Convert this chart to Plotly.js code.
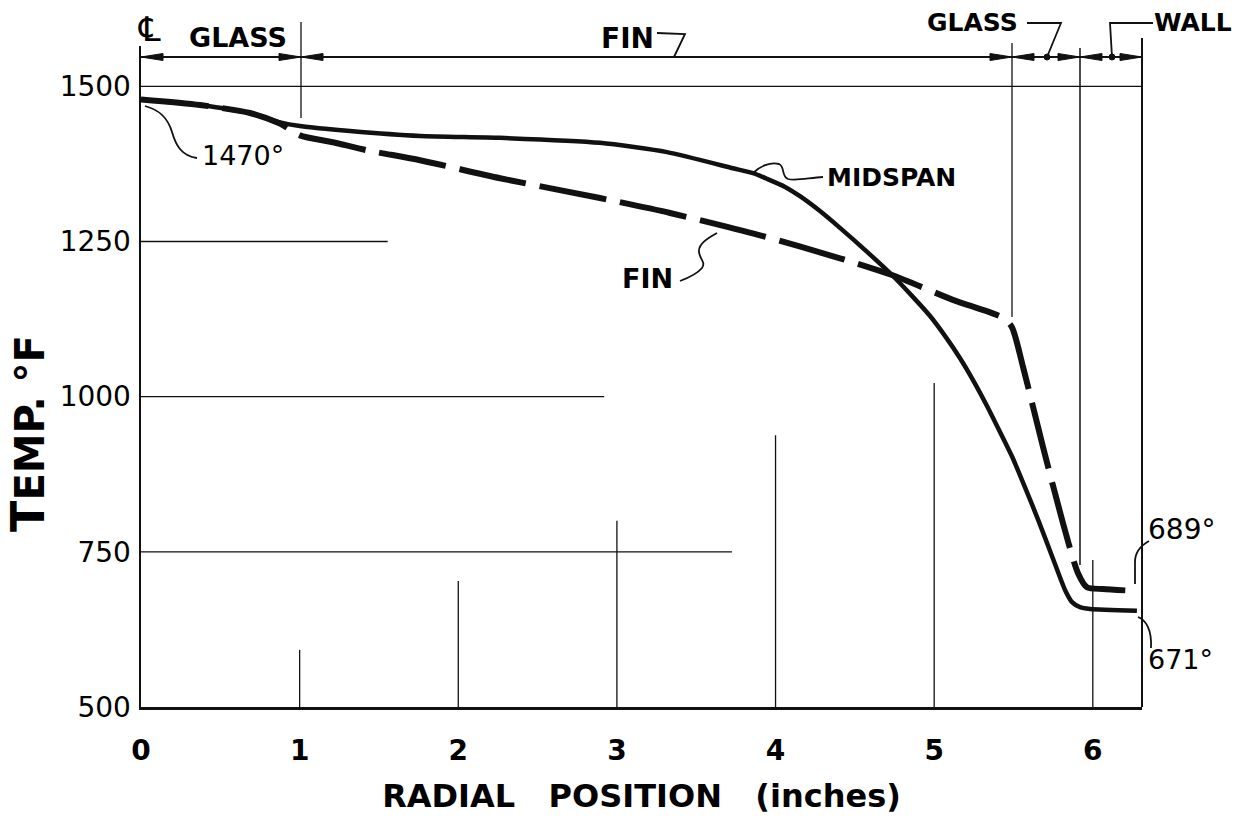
<!DOCTYPE html>
<html><head><meta charset="utf-8">
<script src="https://cdn.plot.ly/plotly-3.0.1.min.js"></script>
<style>html,body{margin:0;padding:0;background:#fff;}#chart{width:1246px;height:830px;}</style>
</head><body><div id="chart"></div>
<script>
// ---- data ----
const radialTicks = [0, 1, 2, 3, 4, 5, 6];
const tempTicks = [500, 750, 1000, 1250, 1500];
const midspanX = [0, 0.372, 0.687, 0.876, 1.002, 1.318, 1.759, 2.263, 2.893, 3.316, 3.732, 3.858, 3.946, 4.060, 4.154, 4.280, 4.406, 4.570, 4.734, 4.854, 4.974, 5.068, 5.163, 5.251, 5.333, 5.415, 5.497, 5.579, 5.661, 5.743, 5.824, 5.869, 5.919, 5.982, 6.278];
const midspanT = [1479, 1470, 1457, 1442, 1436, 1428, 1420, 1417, 1409, 1394, 1368, 1360, 1351, 1338, 1323, 1299, 1272, 1235, 1196, 1164, 1130, 1098, 1062, 1024, 985, 943, 900, 850, 798, 743, 689, 669, 661, 658, 655];
const finX = [0, 0.372, 0.687, 0.876, 1.002, 1.21, 1.425, 1.759, 2.263, 2.893, 3.335, 3.902, 4.406, 4.734, 5.118, 5.434, 5.49, 5.56, 5.686, 5.812, 5.906, 5.963, 6.064, 6.278];
const finT = [1479, 1470, 1457, 1440, 1421, 1410, 1397, 1381, 1352, 1320, 1296, 1260, 1223, 1196, 1156, 1127, 1112, 1048, 919, 796, 716, 693, 690, 687];
// partial grid lines drawn on the original sheet
const hGridT = [1500, 1250, 1000, 750];
const hGridEnd = [6.31, 1.555, 2.92, 3.725];
const vGridX = [1, 2, 3, 4, 5, 6];
const vGridTop = [592, 703, 800, 938, 1022, 737];

// ---- pixel -> paper helpers for decorations ----
const L = 141, R = 1142, TOP = 46, BOT = 707;
const PW = R - L, PH = BOT - TOP;
const fx = p => (p - L) / PW;
const fy = p => (BOT - p) / PH;
const pth = s => s.replace(/(-?\d+\.?\d*),(-?\d+\.?\d*)/g, (m, a, b) => fx(+a).toFixed(5) + ',' + fy(+b).toFixed(5));

const shapes = [];
const ink = '#111';
hGridT.forEach((t, i) => shapes.push({type: 'line', xref: 'x', yref: 'y', x0: 0, x1: hGridEnd[i], y0: t, y1: t, line: {color: ink, width: 1.3}}));
vGridX.forEach((x, i) => shapes.push({type: 'line', xref: 'x', yref: 'y', x0: x, x1: x, y0: 500, y1: vGridTop[i], line: {color: ink, width: 1.3}}));

const decoPaths = [
  ['M301,22 L301,118', 1.3],
  ['M1012,43 L1012,317', 1.3],
  ['M1080,48 L1080,565', 1.5],
  ['M1142,38 L1142,707', 2],
  ['M141,57 L1142,57', 1.8],
  ['M145,106 C160,110 168,118 172,132 C176,146 182,156 197,158', 1.8],
  ['M753,173 C760,166 770,162 779,164 C785,166 781,176 788,179 C796,181 808,178 823,177', 1.8],
  ['M717,233 C708,238 698,244 699,252 C700,260 706,262 702,268 C697,274 688,278 680,281', 1.8],
  ['M1149,541 C1140,546 1135,552 1135,562 L1135,584', 1.8],
  ['M1138,617 C1146,620 1152,630 1151,648', 1.8],
  ['M657,33 L685,34 L674,57', 1.8],
  ['M1027,23 L1061,23 L1047,57', 1.8],
  ['M1153,23 L1110,23 L1112,57', 1.8]
];
decoPaths.forEach(d => shapes.push({type: 'path', xref: 'paper', yref: 'paper', path: pth(d[0]), line: {color: ink, width: d[1]}}));

// dimension arrowheads: [tip, direction (+1 points right)]
const arrows = [[141, -1], [301, 1], [301, -1], [1012, 1], [1012, -1], [1080, 1], [1080, -1], [1142, 1]];
arrows.forEach(a => {
  const tip = a[0], d = a[1], base = tip - d * 22;
  shapes.push({type: 'path', xref: 'paper', yref: 'paper', path: pth(`M${tip},57 L${base},53.5 L${base},60.5 Z`), fillcolor: ink, line: {color: ink, width: 1}});
});
[[1047, 57], [1112, 57]].forEach(c => shapes.push({type: 'circle', xref: 'paper', yref: 'paper', x0: fx(c[0] - 3), x1: fx(c[0] + 3), y0: fy(c[1] + 3), y1: fy(c[1] - 3), fillcolor: ink, line: {color: ink, width: 1}}));

const F = 'DejaVu Sans';
const txt = (s, x, y, size, bold) => ({text: s, xref: 'paper', yref: 'paper', x: fx(x), y: fy(y + 1), xanchor: 'center', yanchor: 'middle', showarrow: false, font: {family: F, size: size, color: '#000', weight: bold ? 'bold' : 'normal'}});
const yTitle = txt('<span style="font-size:46px">T</span>EMP. °F', 28, 433, 40, true);
yTitle.textangle = -90;
const annotations = [
  yTitle,
  txt('\u2104', 149, 28, 34, false),
  txt('GLASS', 238, 36, 27, true),
  txt('FIN', 627, 38, 28, true),
  txt('GLASS', 972, 21, 25, true),
  txt('WALL', 1193, 21, 25, true),
  txt('1470°', 243, 155, 27, false),
  txt('MIDSPAN', 891, 176, 25, true),
  txt('FIN', 647, 277, 27, true),
  txt('689°', 1181, 528, 28, false),
  txt('671°', 1180, 658, 27, false)
];

const traces = [
  {x: midspanX, y: midspanT, name: 'MIDSPAN', type: 'scatter', mode: 'lines', line: {color: ink, width: 4.5, shape: 'spline', smoothing: 0.6}},
  {x: finX, y: finT, name: 'FIN', type: 'scatter', mode: 'lines', line: {color: ink, width: 6, dash: '68px,14px', shape: 'spline', smoothing: 0.7}}
];

const sp = n => '\u00a0'.repeat(n);
const layout = {
  width: 1246, height: 830,
  margin: {l: L, r: 1246 - R, t: TOP, b: 830 - BOT},
  paper_bgcolor: '#fff', plot_bgcolor: '#fff',
  showlegend: false,
  xaxis: {
    range: [0, 6.31], tickvals: radialTicks, ticktext: radialTicks.map(String),
    showgrid: false, zeroline: false, showline: true, linecolor: ink, linewidth: 3,
    ticks: '', ticklabelstandoff: 16,
    tickfont: {family: F, size: 28, weight: 'bold', color: '#000'},
    title: {text: 'RADIAL' + sp(3) + 'POSITION' + sp(3) + '(inches)', font: {family: F, size: 32, weight: 'bold', color: '#000'}, standoff: 20},
    automargin: false
  },
  yaxis: {
    range: [500, 1565], tickvals: tempTicks, ticktext: tempTicks.map(String),
    showgrid: false, zeroline: false, showline: true, linecolor: ink, linewidth: 2.5,
    ticks: '', ticklabelstandoff: 2,
    tickfont: {family: F, size: 28, color: '#000'},
    automargin: false
  },
  shapes: shapes,
  annotations: annotations
};

Plotly.newPlot('chart', traces, layout, {staticPlot: true, displayModeBar: false});
</script>
</body></html>
